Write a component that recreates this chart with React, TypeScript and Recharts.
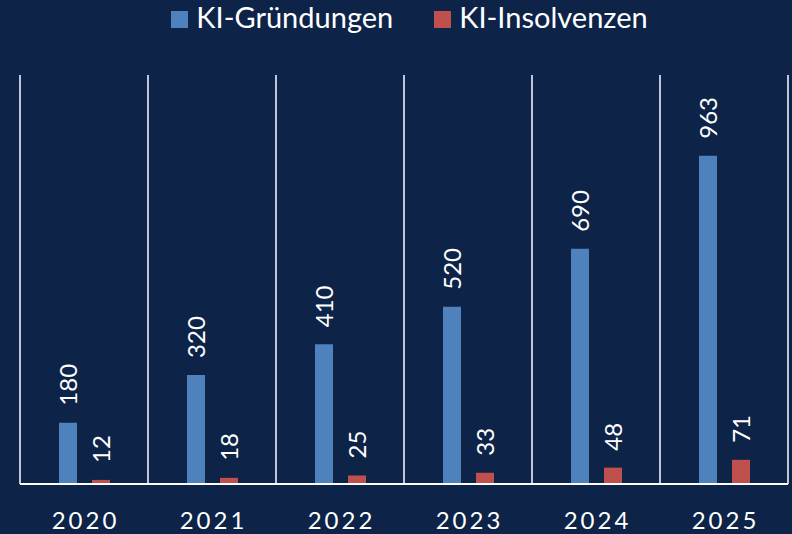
import React from 'react';
import { BarChart, Bar, XAxis, YAxis, CartesianGrid, Legend, LabelList } from 'recharts';

const years = ['2020', '2021', '2022', '2023', '2024', '2025'];
const foundings = [180, 320, 410, 520, 690, 963];
const insolvencies = [12, 18, 25, 33, 48, 71];

const seriesNames = ['KI-Gründungen', 'KI-Insolvenzen'];
const seriesColors = ['#4f81bd', '#c0504d'];

const BG = '#0d2348';
const FONT = 'Lato, "Open Sans", sans-serif';

const data = years.map((year, i) => ({
  year,
  foundings: foundings[i],
  insolvencies: insolvencies[i],
}));

// rotated value label sitting above each bar
const VerticalLabel = (props: any) => {
  const { x, y, width, value } = props;
  const cx = Number(x) + Number(width) / 2;
  const cy = Number(y) - 17;
  return (
    <text
      x={cx}
      y={cy}
      transform={`rotate(-90 ${cx} ${cy})`}
      fill="#ffffff"
      fontSize={24}
      fontFamily={FONT}
      textAnchor="start"
      dominantBaseline="central"
    >
      {value}
    </text>
  );
};

const YearTick = (props: any) => {
  const { x, y, payload } = props;
  return (
    <text
      x={x + 1.5}
      y={y + 45}
      fill="#ffffff"
      fontSize={24}
      fontFamily={FONT}
      letterSpacing={3}
      textAnchor="middle"
    >
      {payload.value}
    </text>
  );
};

const TopLegend = () => (
  <div
    style={{
      height: 75,
      display: 'flex',
      justifyContent: 'center',
      alignItems: 'flex-start',
      paddingLeft: 11,
      boxSizing: 'border-box',
      fontFamily: FONT,
      fontSize: 29,
      color: '#ffffff',
    }}
  >
    {seriesNames.map((name, i) => (
      <div
        key={name}
        style={{ display: 'flex', alignItems: 'flex-start', marginRight: i === 0 ? 41 : 0 }}
      >
        <span
          style={{
            width: 17,
            height: 17,
            marginTop: 11,
            marginRight: 8,
            background: seriesColors[i],
            display: 'inline-block',
          }}
        />
        <span style={{ lineHeight: 'normal', marginTop: -1 }}>{name}</span>
      </div>
    ))}
  </div>
);

export default function App() {
  return (
    <div style={{ position: 'absolute', left: 0, top: 0, width: 792, height: 534, background: BG }}>
      <BarChart
        width={792}
        height={534}
        data={data}
        margin={{ top: 0, right: 4, left: 20, bottom: 0 }}
        barSize={18}
        barGap={15}
      >
        <CartesianGrid
          horizontal={false}
          stroke="#ffffff"
          strokeWidth={1.5}
          verticalCoordinatesGenerator={({ offset }: any) =>
            years.concat('').map((_, i) => offset.left + (i * offset.width) / years.length)
          }
        />
        <XAxis
          dataKey="year"
          height={50}
          tickLine={false}
          tickSize={0}
          tickMargin={0}
          axisLine={{ stroke: '#ffffff', strokeWidth: 2 }}
          tick={<YearTick />}
          interval={0}
        />
        <YAxis hide domain={[0, 1200]} />
        <Legend verticalAlign="top" content={<TopLegend />} />
        <Bar dataKey="foundings" name={seriesNames[0]} fill={seriesColors[0]} isAnimationActive={false}>
          <LabelList dataKey="foundings" content={<VerticalLabel />} />
        </Bar>
        <Bar dataKey="insolvencies" name={seriesNames[1]} fill={seriesColors[1]} isAnimationActive={false}>
          <LabelList dataKey="insolvencies" content={<VerticalLabel />} />
        </Bar>
      </BarChart>
    </div>
  );
}
